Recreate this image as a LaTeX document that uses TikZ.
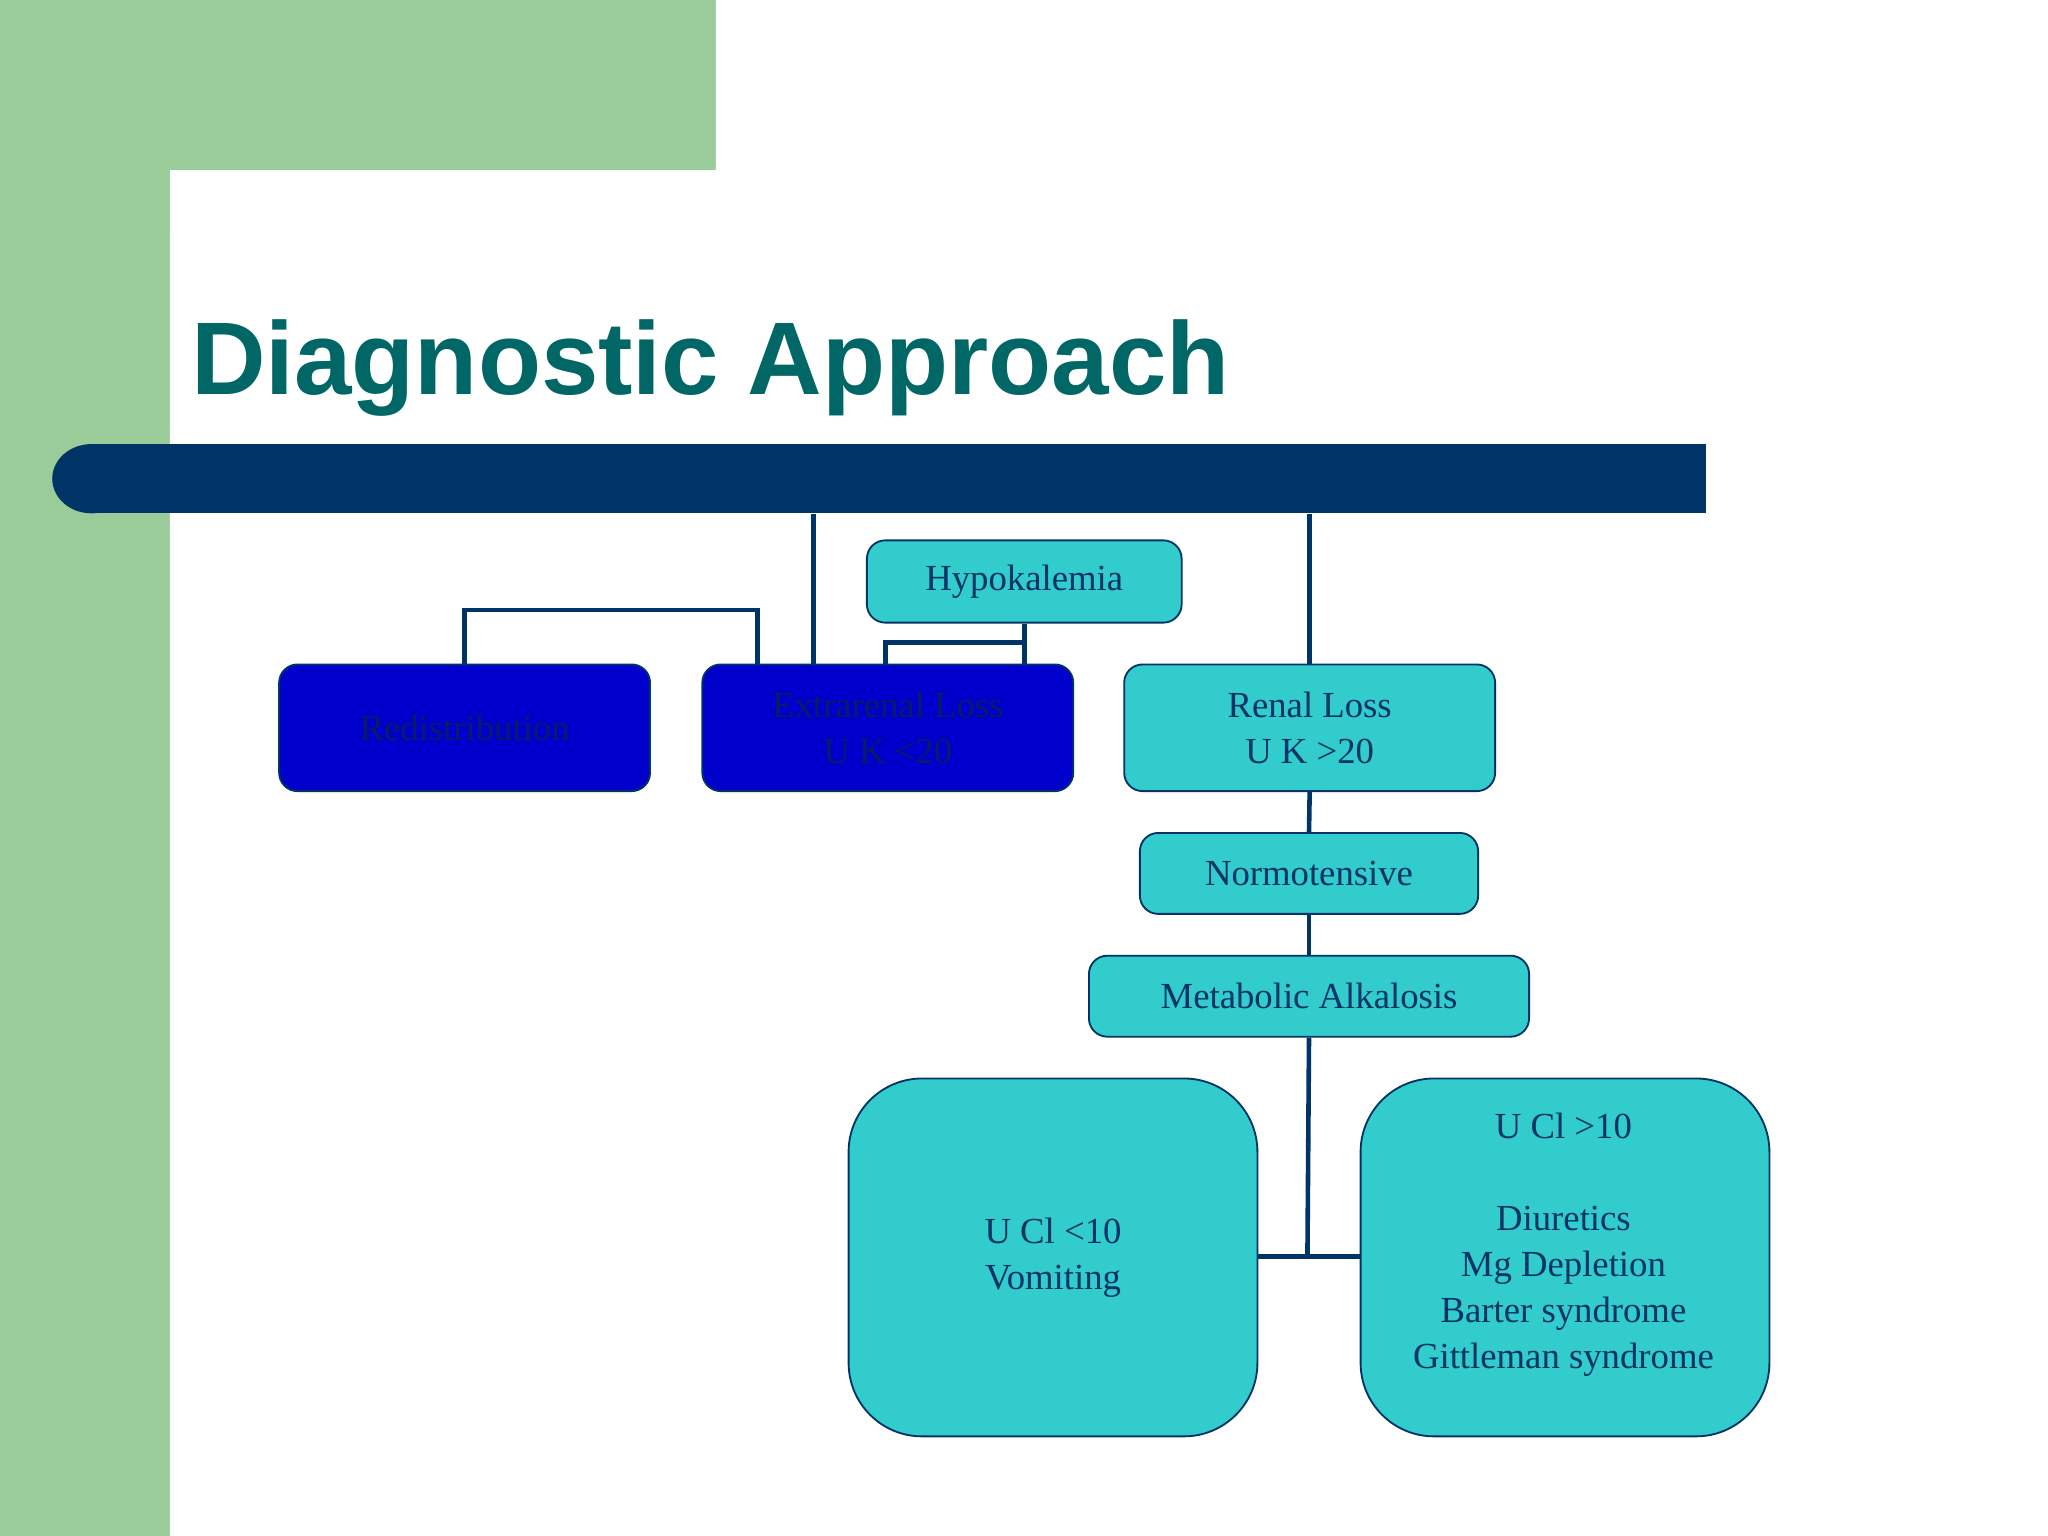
\documentclass[tikz,border=0pt]{standalone}
\usepackage{fontspec}
\setmainfont{Liberation Serif}
\newfontfamily\titlefont{Liberation Sans}
\definecolor{gbg}{HTML}{99CC99}
\definecolor{navy}{HTML}{003366}
\definecolor{cy}{HTML}{33CCCC}
\definecolor{db}{HTML}{0000CC}
\definecolor{tealt}{HTML}{006666}
\definecolor{dtext}{HTML}{0A1A66}
\begin{document}
\begin{tikzpicture}[x=0.02cm,y=-0.02cm,
  box/.style={draw=navy,fill=cy,line width=0.8pt,rounded corners=8pt,anchor=north west,inner sep=0pt,align=center,text=navy,font=\fontsize{16}{20}\selectfont},
  dbox/.style={box,fill=db,text=dtext},
  big/.style={box,rounded corners=32pt},
  con/.style={draw=navy,line width=2pt}]
\useasboundingbox (0,0) rectangle (1568,1176);
\fill[gbg] (0,0) rectangle (548,130);
\fill[gbg] (0,0) rectangle (130,1176);
\fill[white] (130,1176) -- (130,180) arc[start angle=180,end angle=90,radius=50] -- (548,130) -- (548,0) -- (1568,0) -- (1568,1176) -- cycle;
\node[anchor=base west,inner sep=0pt,text=tealt,font=\titlefont\fontsize{45}{50}\selectfont\bfseries] (title) at (146,302) {Diagnostic Approach};
\fill[navy] (70,340) rectangle (1306,393);
\fill[navy] (70,366.5) ellipse (30 and 26.5);
\node[inner sep=0pt,minimum width=1266*0.02cm,minimum height=53*0.02cm,anchor=north west] (bar) at (40,340) {};
\node[box,minimum width=241*0.02cm,minimum height=63*0.02cm] (hypo) at (663,413) {Hypokalemia};
\node[dbox,minimum width=284*0.02cm,minimum height=97*0.02cm] (redis) at (213,508) {Redistribution};
\node[dbox,minimum width=284*0.02cm,minimum height=97*0.02cm] (extra) at (537,508) {Extrarenal Loss\\U K <20};
\node[box,minimum width=284*0.02cm,minimum height=97*0.02cm] (renal) at (860,508) {Renal Loss\\U K >20};
\node[box,minimum width=259*0.02cm,minimum height=62*0.02cm] (normo) at (872,637) {Normotensive};
\node[box,minimum width=337*0.02cm,minimum height=62*0.02cm] (meta) at (833,731) {Metabolic Alkalosis};
\node[big,minimum width=313*0.02cm,minimum height=274*0.02cm] (ucl) at (649,825) {U Cl <10\\Vomiting};
\node[big,minimum width=313*0.02cm,minimum height=274*0.02cm,text height=] (ucg) at (1041,825) {};
\node[anchor=north,align=center,text=navy,font=\fontsize{16}{20}\selectfont,inner sep=0pt] (ucgt) at (1197,852) {U Cl >10\\[\baselineskip]Diuretics\\Mg Depletion\\Barter syndrome\\Gittleman syndrome};
\coordinate (c1) at (623,0);
\coordinate (c2) at (678,0);
\coordinate (c3) at (580,0);
\coordinate (j1) at (0,492);
\coordinate (j2) at (0,467);
\coordinate (j3) at (1001,962);
\draw[con] (bar.south -| c1) -- (extra.north -| c1);
\draw[con] (bar.south -| renal.north) -- (renal.north);
\draw[con] (hypo.south) -- (hypo.south |- extra.north);
\draw[con] (hypo.south |- j1) -- (c2 |- j1) -- (c2 |- extra.north);
\draw[con] (redis.north) -- (redis.north |- j2) -- (c3 |- j2) -- (c3 |- extra.north);
\draw[con] (renal.south) -- (normo.north);
\draw[con] (normo.south) -- (meta.north);
\draw[con] (meta.south) -- (j3);
\draw[con] (ucl.east |- j3) -- (ucg.west |- j3);
\end{tikzpicture}
\end{document}
